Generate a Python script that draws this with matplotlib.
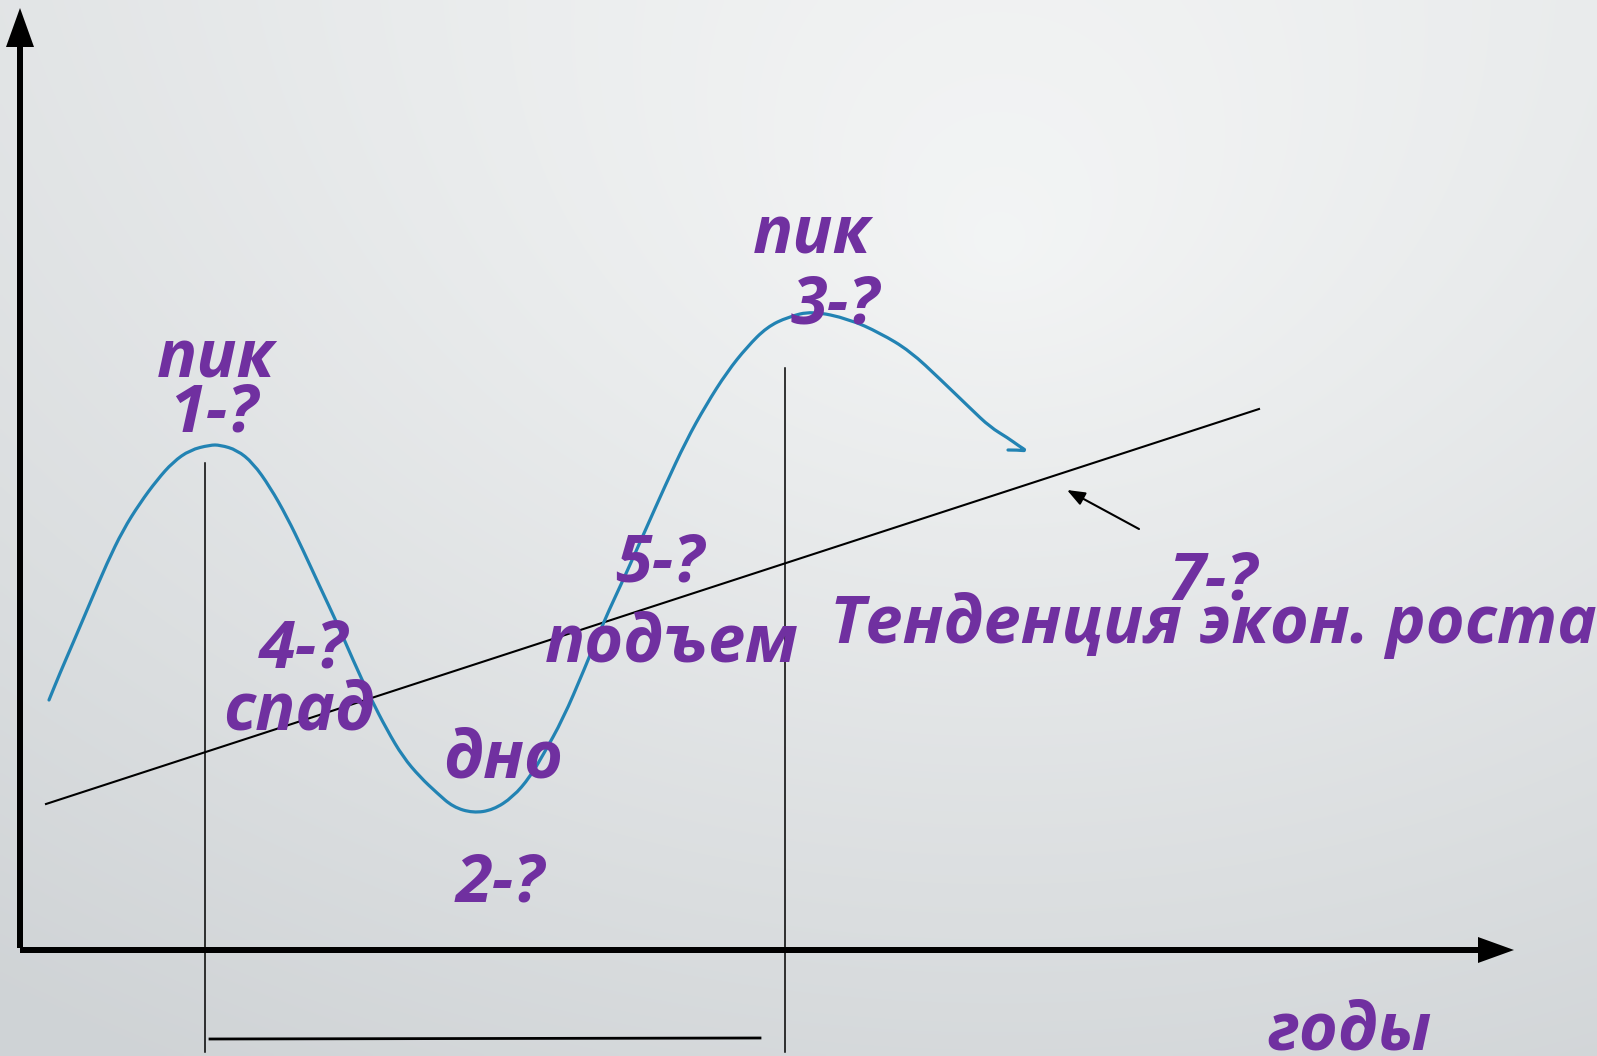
import os
import numpy as np
import matplotlib.pyplot as plt
from matplotlib.patches import FancyArrow, PathPatch
from matplotlib.path import Path
from matplotlib.font_manager import FontProperties

# business cycle curve (pixel units, y grows downwards)
cycle_x = [49, 60, 73, 90, 107, 123, 140, 157, 173, 190, 210, 220, 237, 253, 270, 287, 303,
           320, 337, 353, 370, 387, 403, 420, 437, 453, 473, 493, 513, 530, 543, 563, 584,
           604, 625, 645, 665, 686, 706, 727, 747, 767, 788, 812, 849, 880, 910, 941, 971,
           990, 1008, 1019, 1027, 1018, 1008]
cycle_y = [700, 673, 643, 603, 563, 530, 503, 480, 462, 450, 445, 445, 450, 463, 487, 517, 550,
           587, 623, 660, 697, 730, 757, 777, 793, 807, 813, 810, 797, 777, 755, 719, 670,
           621, 576, 531, 486, 441, 405, 372, 347, 327, 317, 311, 319, 333, 351, 380, 409,
           427, 438, 446, 451, 450, 450]

# trend line of economic growth
trend_x = [46, 1259]
trend_y = [804, 409]

# years marked by the two peaks and the cycle length bracket
peak_years = [205, 785]
peak_line_top = [463, 368]
cycle_len_x = [210, 760]
cycle_len_y = [1039, 1038]

labels = ["пик", "1-?", "пик", "3-?", "4-?", "спад", "дно", "2-?",
          "5-?", "подъем", "7-?", "Тенденция экон. роста", "годы"]
label_x = [216, 214, 812, 835, 303, 299, 503, 500, 660, 672, 1213, 1213, 1350]
label_y = [377, 432, 253, 323, 668, 729, 778, 902, 582, 661, 600, 643, 1049]

W, H = 1597, 1056
purple = "#7030a0"

bold_italic = "/usr/share/fonts/truetype/open-sans/OpenSans-BoldItalic.ttf"
if os.path.exists(bold_italic):
    fp = FontProperties(fname=bold_italic, size=48)
else:
    fp = FontProperties(family=["Open Sans", "DejaVu Sans"], weight="bold", style="italic", size=48)

fig = plt.figure(figsize=(W / 100, H / 100), dpi=100)
ax = fig.add_axes([0, 0, 1, 1])
ax.set_xlim(0, W)
ax.set_ylim(H, 0)
ax.axis("off")

# soft grey background, lighter towards the upper middle
gx, gy = np.meshgrid(np.linspace(0, W, 400), np.linspace(0, H, 270))
r = np.sqrt(((gx - 1000) / 1100) ** 2 + ((gy - 250) / 900) ** 2)
t = np.clip(0.55 * r + 0.35 * gy / H, 0, 1)
top = np.array([0.965, 0.970, 0.970])
bot = np.array([0.815, 0.830, 0.840])
img = top[None, None, :] * (1 - t[..., None]) + bot[None, None, :] * t[..., None]
ax.imshow(img, extent=(0, W, H, 0), aspect="auto", zorder=0, interpolation="bilinear")

# axes with arrows
ax.add_patch(FancyArrow(20, 948, 0, -940, width=6, head_width=28, head_length=39,
                        length_includes_head=True, color="black", lw=0, zorder=3))
ax.add_patch(FancyArrow(20, 950, 1494, 0, width=6, head_width=26, head_length=36,
                        length_includes_head=True, color="black", lw=0, zorder=3))

# peak markers and cycle length
for px, pt in zip(peak_years, peak_line_top):
    ax.plot([px, px], [pt, 1052], color="black", lw=1.1, zorder=2)
ax.plot(cycle_len_x, cycle_len_y, color="black", lw=2.0, zorder=2)

ax.plot(trend_x, trend_y, color="black", lw=1.5, zorder=2)

# the wave is drawn as a chain of quadratic curves using the read points as controls
pts = np.column_stack([cycle_x, cycle_y]).astype(float)
verts = [pts[0], (pts[0] + pts[1]) / 2]
codes = [Path.MOVETO, Path.LINETO]
for i in range(1, len(pts) - 1):
    end = pts[i + 1] if i == len(pts) - 2 else (pts[i] + pts[i + 1]) / 2
    verts += [pts[i], end]
    codes += [Path.CURVE3, Path.CURVE3]
ax.add_patch(PathPatch(Path(verts, codes), fill=False, edgecolor="#2283b3", lw=2.3,
                       capstyle="round", joinstyle="round", zorder=2))

ax.annotate("", xy=(1067, 490), xytext=(1139, 529),
            arrowprops=dict(arrowstyle="-|>,head_length=0.9,head_width=0.35",
                            color="black", lw=1.5, shrinkA=0, shrinkB=0,
                            mutation_scale=12), zorder=3)

for txt, x, y in zip(labels, label_x, label_y):
    ax.text(x, y, txt, color=purple, fontproperties=fp,
            ha="center", va="baseline", zorder=4)

fig.savefig("out.png", dpi=100)
